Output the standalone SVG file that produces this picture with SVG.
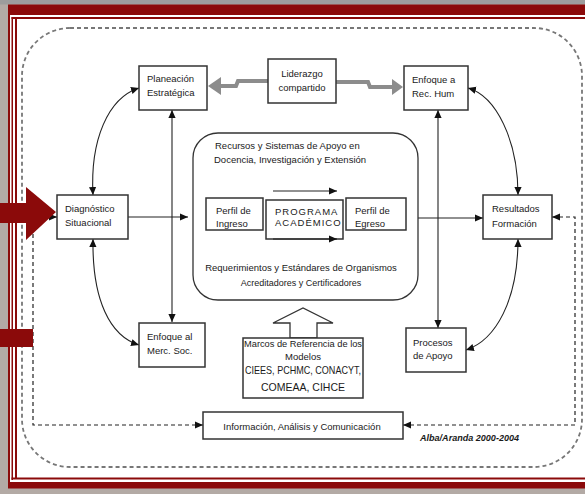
<svg xmlns="http://www.w3.org/2000/svg" width="585" height="494" viewBox="0 0 585 494">
<defs>
<marker id="ah" viewBox="0 0 10 10" refX="10" refY="5" markerWidth="8" markerHeight="8" markerUnits="userSpaceOnUse" orient="auto-start-reverse"><path d="M0,0.5 L10,5 L0,9.5 z" fill="#111"/></marker>
<style>
.box{fill:#fff;stroke:#333;stroke-width:1.5}
.t{font-family:"Liberation Sans",Arial,sans-serif;font-size:9.5px;fill:#1a1a1a}
.c{text-anchor:middle}
.ln{fill:none;stroke:#222;stroke-width:1.1}
.dash{fill:none;stroke:#222;stroke-width:1.2;stroke-dasharray:4 3}
.outer{fill:none;stroke:#777;stroke-width:1.8;stroke-dasharray:4 3}
.gray{fill:none;stroke:#8c8c8c;stroke-width:4}
.red{fill:#8b0a0a}
</style>
</defs>
<!-- background & frame -->
<rect width="585" height="494" fill="#b3aaa5"/>
<rect x="0" y="0" width="585" height="4.5" fill="#9d9d9d"/>
<rect class="red" x="8" y="4.5" width="590" height="484"/>
<rect x="10" y="15" width="590" height="467" fill="#fff"/>
<rect class="red" x="11.5" y="17" width="1.5" height="463"/>
<rect class="red" x="15" y="17" width="2" height="461"/>
<rect class="red" x="11.5" y="17" width="590" height="2"/>
<rect class="red" x="11.5" y="477.5" width="590" height="2"/>
<rect class="outer" x="22" y="28" width="560" height="439" rx="48"/>

<g id="connectors">
<path class="gray" d="M268,81 H238 L236,86 H221"/>
<polygon points="221,77 208,86 221,95" fill="#8c8c8c"/>
<path class="gray" d="M336,82 H368 L370,87 H392"/>
<polygon points="392,79 403,87 392,95" fill="#8c8c8c"/>
<path class="ln" d="M93,195 C90,140 108,98 139,88" marker-start="url(#ah)" marker-end="url(#ah)"/>
<path class="ln" d="M93,239 C92,300 110,336 139,345" marker-start="url(#ah)" marker-end="url(#ah)"/>
<path class="ln" d="M468,88 C496,96 518,140 518,195" marker-start="url(#ah)" marker-end="url(#ah)"/>
<path class="ln" d="M518,239 C518,300 496,340 466,350" marker-start="url(#ah)" marker-end="url(#ah)"/>
<path class="ln" d="M128,217 H188" marker-end="url(#ah)"/>
<path class="ln" d="M418,218 H483" marker-end="url(#ah)"/>
<path class="ln" d="M172,110 V322" marker-start="url(#ah)" marker-end="url(#ah)"/>
<path class="ln" d="M438,110 V328" marker-start="url(#ah)" marker-end="url(#ah)"/>
<path class="dash" d="M203,425 H33 V217 H57" marker-start="url(#ah)" marker-end="url(#ah)"/>
<path class="dash" d="M403,425 H575 V217 H552" marker-start="url(#ah)" marker-end="url(#ah)"/>
<polygon points="290,338 290,323 273,323 303,308 333,323 317,323 317,338" fill="#fff" stroke="#333" stroke-width="1.3"/>
</g>

<g id="recursos">
<rect x="193" y="133" width="225" height="167" rx="25" fill="none" stroke="#333" stroke-width="1.3"/>
<text class="t" x="215" y="148.5">Recursos y Sistemas de Apoyo en</text>
<text class="t" x="214" y="162.5">Docencia, Investigación y Extensión</text>
<text class="t c" x="301" y="270.5">Requerimientos y Estándares de Organismos</text>
<text class="t c" x="301" y="286" style="font-size:9px">Acreditadores y Certificadores</text>
</g>
<g id="perfil-ingreso">
<rect class="box" x="206" y="198" width="57" height="32"/>
<text class="t" x="216" y="213.5">Perfil de</text>
<text class="t" x="216" y="226.5">Ingreso</text>
</g>
<g id="programa">
<rect class="box" x="266" y="200" width="77" height="39"/>
<text class="t" x="275" y="214.5" style="letter-spacing:1px">PROGRAMA</text>
<text class="t" x="275" y="225.5" style="letter-spacing:1px">ACADÉMICO</text>
</g>
<g id="perfil-egreso">
<rect class="box" x="346" y="198" width="60" height="32"/>
<text class="t" x="355" y="213.5">Perfil de</text>
<text class="t" x="355" y="226.5">Egreso</text>
</g>
<g id="inner-arrows">
<path class="ln" d="M273,191 H337" marker-end="url(#ah)"/>
<path class="ln" d="M273,239 H337" marker-end="url(#ah)"/>
</g>

<g id="planeacion">
<rect class="box" x="139" y="66" width="68" height="44"/>
<text class="t" x="147" y="82">Planeación</text>
<text class="t" x="147" y="96">Estratégica</text>
</g>
<g id="liderazgo">
<rect class="box" x="268" y="59" width="68" height="44"/>
<text class="t c" x="302" y="76.5">Liderazgo</text>
<text class="t c" x="302" y="90.5">compartido</text>
</g>
<g id="enfoque-rh">
<rect class="box" x="404" y="66" width="64" height="44"/>
<text class="t" x="412" y="82.5">Enfoque a</text>
<text class="t" x="412" y="96.5">Rec. Hum</text>
</g>
<g id="diagnostico">
<rect class="box" x="57" y="195" width="71" height="44"/>
<text class="t" x="65" y="211.5">Diagnóstico</text>
<text class="t" x="65" y="225.5">Situacional</text>
</g>
<g id="resultados">
<rect class="box" x="483" y="195" width="69" height="44"/>
<text class="t" x="492" y="211.5">Resultados</text>
<text class="t" x="492" y="226.5">Formación</text>
</g>
<g id="enfoque-ms">
<rect class="box" x="139" y="323" width="66" height="44"/>
<text class="t" x="147" y="339.5">Enfoque al</text>
<text class="t" x="147" y="353.5">Merc. Soc.</text>
</g>
<g id="procesos">
<rect class="box" x="406" y="328" width="60" height="44"/>
<text class="t" x="413" y="345.5">Procesos</text>
<text class="t" x="413" y="358.5">de Apoyo</text>
</g>
<g id="marcos">
<rect class="box" x="243" y="338" width="120" height="60"/>
<text class="t c" x="303" y="346.5" textLength="118" lengthAdjust="spacingAndGlyphs">Marcos de Referencia de los</text>
<text class="t c" x="303" y="359.5">Modelos</text>
<text class="t c" x="303" y="374" style="font-size:10.5px" textLength="116" lengthAdjust="spacingAndGlyphs">CIEES, PCHMC, CONACYT,</text>
<text class="t c" x="303" y="391" style="font-size:10.5px">COMEAA, CIHCE</text>
</g>
<g id="informacion">
<rect class="box" x="203" y="412" width="200" height="27"/>
<text class="t c" x="302" y="429.5">Información, Análisis y Comunicación</text>
</g>
<text class="t" x="420" y="441" style="font-size:8.5px;font-weight:bold;font-style:italic" textLength="99" lengthAdjust="spacingAndGlyphs">Alba/Aranda 2000-2004</text>

<g id="red-arrows">
<polygon class="red" points="0,203 26,203 26,187 56,212 26,240 26,223 0,223"/>
<rect class="red" x="0" y="329" width="33" height="18"/>
</g>
</svg>
